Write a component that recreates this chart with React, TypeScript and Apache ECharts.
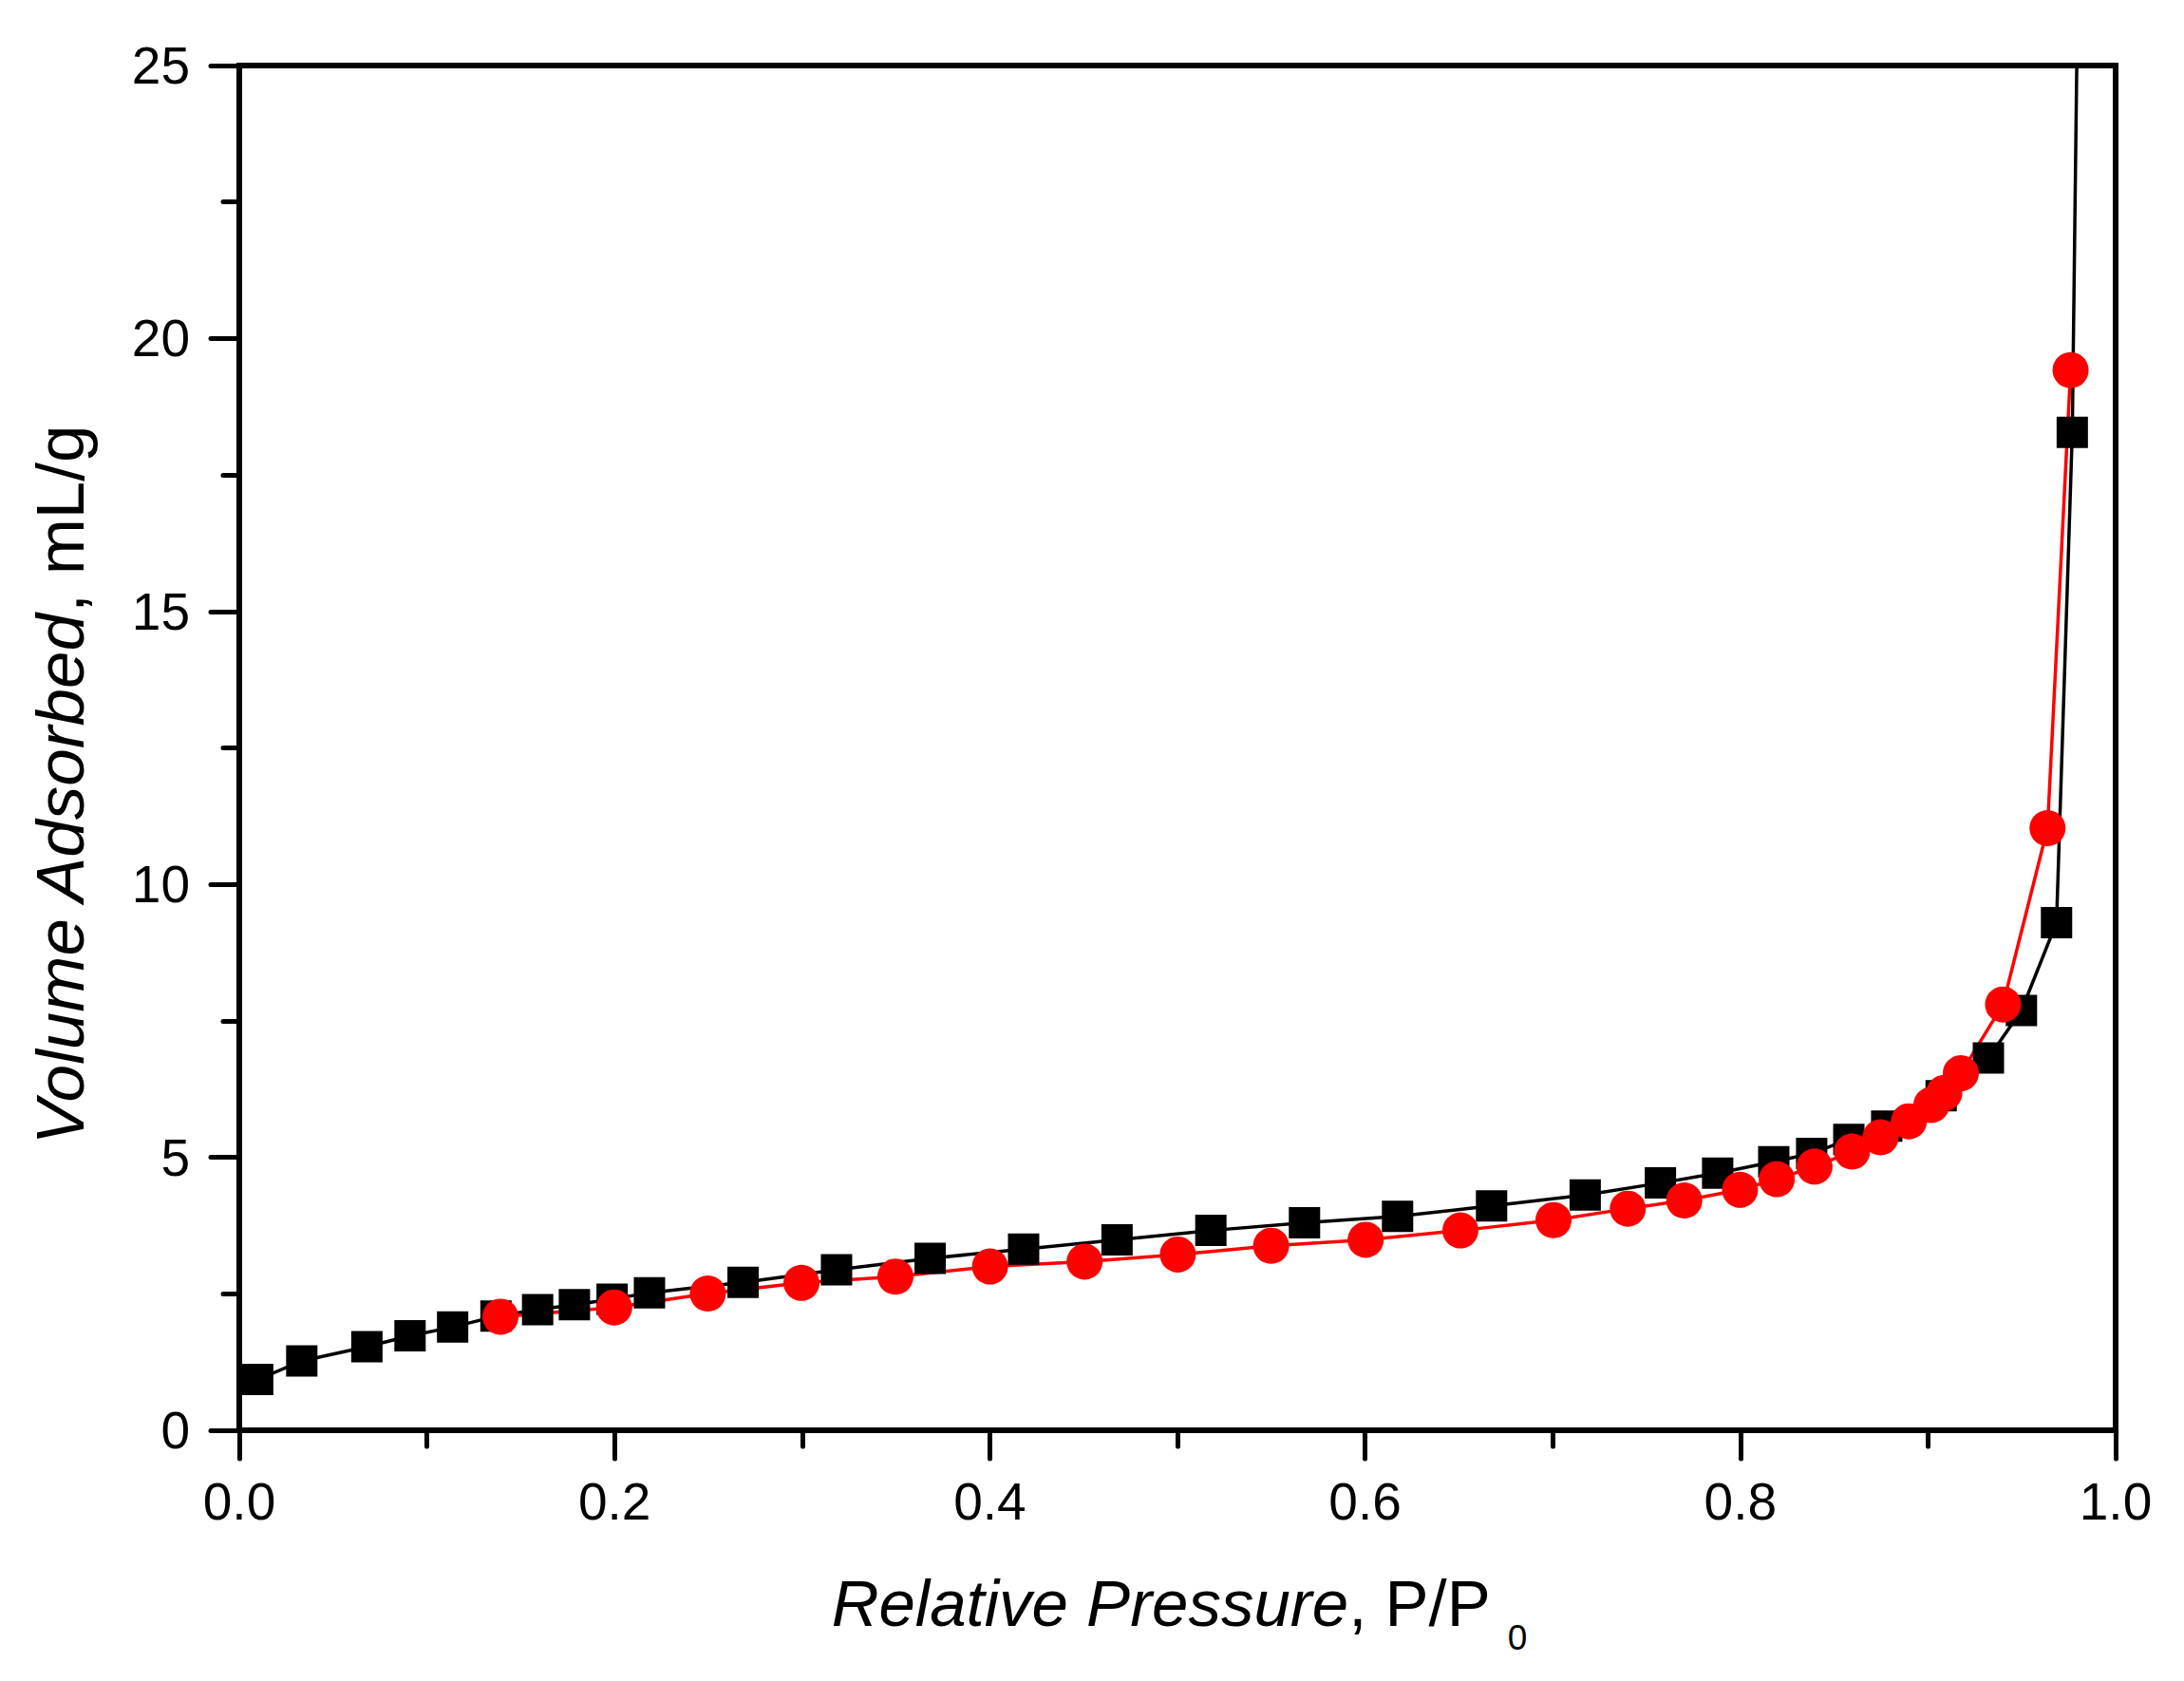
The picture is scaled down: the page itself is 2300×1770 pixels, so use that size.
import React, { useEffect, useRef } from "react";
import * as echarts from "echarts";

// Adsorption branch (black squares)
const adsPressure = [
  0.0098, 0.0333, 0.068, 0.091, 0.1137, 0.1368, 0.159, 0.1786, 0.1987, 0.2186,
  0.2685, 0.3183, 0.3682, 0.418, 0.4678, 0.5178, 0.5677, 0.6173, 0.6674, 0.7173,
  0.7574, 0.7879, 0.8178, 0.838, 0.8578, 0.878, 0.907, 0.9322, 0.9498, 0.9685,
  0.9769, 0.9846,
];
const adsVolume = [
  0.93, 1.27, 1.53, 1.73, 1.89, 2.09, 2.21, 2.3, 2.4, 2.52,
  2.71, 2.94, 3.15, 3.32, 3.49, 3.66, 3.8, 3.92, 4.11, 4.31,
  4.53, 4.71, 4.92, 5.07, 5.33, 5.57, 6.13, 6.82, 7.69, 9.3,
  18.28, 40,
];

// Desorption branch (red circles)
const desPressure = [
  0.1392, 0.1998, 0.2497, 0.2996, 0.3497, 0.4001, 0.4505, 0.5002, 0.5499, 0.6003,
  0.6508, 0.7004, 0.74, 0.7701, 0.7998, 0.8194, 0.8395, 0.8595, 0.8747, 0.8898,
  0.9018, 0.9087, 0.9175, 0.94, 0.9637, 0.976,
];
const desVolume = [
  2.08, 2.25, 2.505, 2.7, 2.815, 3.0, 3.09, 3.22, 3.38, 3.49,
  3.66, 3.85, 4.06, 4.21, 4.405, 4.6, 4.83, 5.106, 5.367, 5.66,
  5.96, 6.18, 6.54, 7.8, 11.03, 19.42,
];

const FONT = "'Liberation Sans', Arial, sans-serif";

export default function App() {
  const ref = useRef<HTMLDivElement | null>(null);

  useEffect(() => {
    if (!ref.current) return;
    const chart = echarts.init(ref.current, null, { renderer: "svg" });

    const axisCommon = {
      type: "value" as const,
      axisLine: { show: true, onZero: false, lineStyle: { color: "#000", width: 6 } },
      axisTick: { show: true, length: 30, lineStyle: { color: "#000", width: 5, cap: "round" } },
      minorTick: {
        show: true,
        splitNumber: 2,
        length: 17,
        lineStyle: { color: "#000", width: 5, cap: "round" },
      },
      splitLine: { show: false },
      minorSplitLine: { show: false },
    };

    chart.setOption({
      animation: false,
      backgroundColor: "#fff",
      grid: {
        left: 252,
        right: 72,
        top: 69,
        bottom: 264,
        show: true,
        borderColor: "#000",
        borderWidth: 6,
        backgroundColor: "transparent",
      },
      xAxis: {
        ...axisCommon,
        min: 0,
        max: 1,
        interval: 0.2,
        axisLabel: {
          color: "#000",
          fontSize: 55,
          fontFamily: FONT,
          margin: 47,
          formatter: (v: number) => v.toFixed(1),
        },
      },
      yAxis: {
        ...axisCommon,
        min: 0,
        max: 25,
        interval: 5,
        axisLabel: {
          color: "#000",
          fontSize: 55,
          fontFamily: FONT,
          margin: 52,
        },
      },
      series: [
        {
          name: "Adsorption",
          type: "line",
          data: adsPressure.map((p, i) => [p, adsVolume[i]]),
          symbol: "rect",
          symbolSize: 33,
          showAllSymbol: true,
          clip: true,
          lineStyle: { color: "#000", width: 3.5 },
          itemStyle: { color: "#000" },
        },
        {
          name: "Desorption",
          type: "line",
          data: desPressure.map((p, i) => [p, desVolume[i]]),
          symbol: "circle",
          symbolSize: 38,
          showAllSymbol: true,
          clip: true,
          lineStyle: { color: "#ff0000", width: 3.5 },
          itemStyle: { color: "#ff0000" },
        },
      ],
      graphic: [
        {
          type: "text",
          x: 1242,
          y: 1688,
          style: {
            text: "{i|Relative Pressure}{n|, P/P}{s|0}",
            align: "center",
            verticalAlign: "middle",
            fill: "#000",
            rich: {
              i: { fontSize: 69, fontStyle: "italic", fontFamily: FONT, lineHeight: 110 },
              n: { fontSize: 69, fontFamily: FONT, lineHeight: 110 },
              s: {
                fontSize: 37,
                fontFamily: FONT,
                lineHeight: 31,
                verticalAlign: "bottom",
                padding: [0, 0, 0, 18],
              },
            },
          },
        },
        {
          type: "text",
          x: 63,
          y: 827,
          rotation: Math.PI / 2,
          style: {
            text: "{i|Volume Adsorbed}{n|, mL/g}",
            align: "center",
            verticalAlign: "middle",
            fill: "#000",
            rich: {
              i: { fontSize: 71, fontStyle: "italic", fontFamily: FONT },
              n: { fontSize: 71, fontFamily: FONT },
            },
          },
        },
      ],
    });

    return () => chart.dispose();
  }, []);

  return (
    <div
      ref={ref}
      style={{ position: "absolute", left: 0, top: 0, width: 2300, height: 1770, background: "#fff" }}
    />
  );
}
